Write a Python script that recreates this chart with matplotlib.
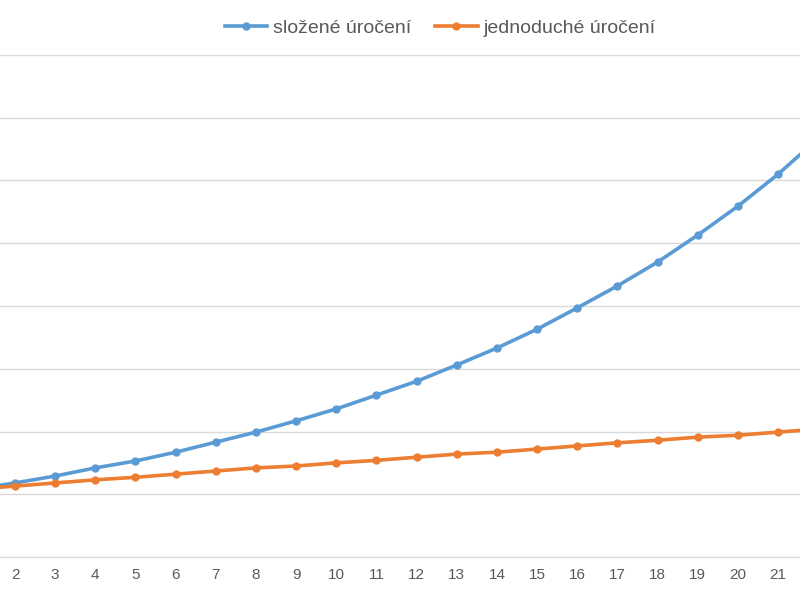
#!/usr/bin/env python3
from matplotlib import pyplot as plt

# data (values in units of 100 per gridline)
years = list(range(1, 23))
compound = [108, 118, 129, 142, 153, 167, 183, 199, 217, 236, 258, 280,
            306, 333, 363, 397, 432, 470, 513, 559, 610, 667]
simple = [108, 113, 118, 123, 127, 132, 137, 142, 145, 150, 154, 159,
          164, 167, 172, 177, 182, 186, 191, 194, 199, 204]
tick_years = list(range(2, 22))
labels = ['složené úročení', 'jednoduché úročení']

plt.rcParams['font.family'] = ['Liberation Sans', 'DejaVu Sans']

fig = plt.figure(figsize=(8, 6), dpi=100)
ax = fig.add_axes([0, 43 / 600, 1, 502 / 600])

ax.plot(years, compound, color='#5b9bd5', lw=2.6, marker='o', ms=5, label=labels[0])
ax.plot(years, simple, color='#ed7d31', lw=2.6, marker='o', ms=5, label=labels[1])

ax.set_xticks(tick_years)
ax.set_yticks(range(0, 801, 100))
ax.set_xlim(2 - 15 / 40.16, 2 + 785 / 40.16)
ax.set_ylim(0, 800)
ax.yaxis.grid(True, color='#d9d9d9', lw=1)
ax.set_axisbelow(True)
for s in ['top', 'right', 'left']:
    ax.spines[s].set_visible(False)
ax.spines['bottom'].set_color('#d9d9d9')
ax.tick_params(axis='y', left=False, labelleft=False)
ax.tick_params(axis='x', length=0, labelsize=11, labelcolor='#595959', pad=8)

fig.legend(loc='center', bbox_to_anchor=(0.55, 0.953), ncol=2, frameon=False,
           fontsize=14, handlelength=2.2, columnspacing=1.2, handletextpad=0.3,
           labelcolor='#595959')

plt.savefig('out.png')
